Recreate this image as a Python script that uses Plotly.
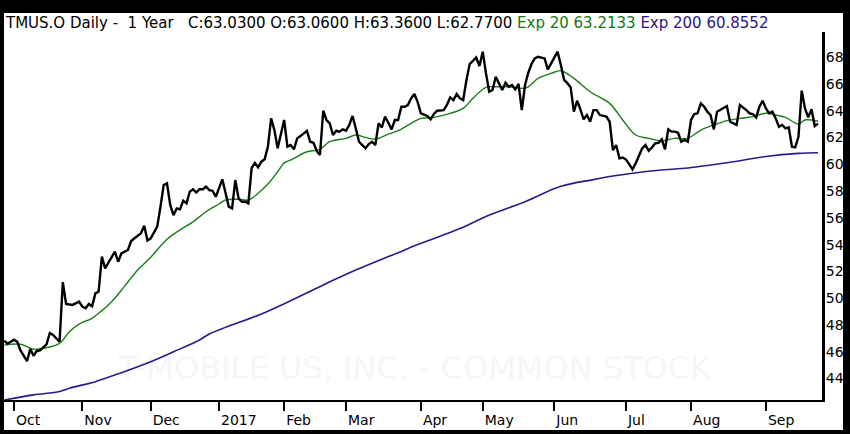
import plotly.graph_objects as go

# ---------------- data (trading-day index, 0 = 3 Oct 2016) ----------------
month_tick_days = [0, 21, 42, 63, 83, 102, 125, 144, 166, 188, 208, 231]
month_tick_labels = ["Oct", "Nov", "Dec", "2017", "Feb", "Mar", "Apr", "May", "Jun", "Jul", "Aug", "Sep"]
y_tick_values = [44, 46, 48, 50, 52, 54, 56, 58, 60, 62, 64, 66, 68]

price_day = [-3, -2, 0, 1, 2, 4, 5, 6, 7, 8, 10, 11, 12, 14, 15, 16, 18, 20, 21, 22, 23, 24, 25, 26,
             27, 28, 29, 31, 32, 33, 35, 36, 37, 39, 40, 41, 42, 44, 45, 46, 47, 48, 49, 50, 51, 52,
             53, 54, 55, 56, 57, 58, 59, 60, 61, 62, 64, 65, 66, 67, 68, 69, 70, 71, 72, 73, 74, 75,
             76, 77, 78, 79, 80, 81, 82, 83, 84, 85, 86, 87, 88, 90, 91, 92, 93, 94, 95, 96, 97, 98,
             99, 100, 101, 102, 103, 104, 105, 106, 107, 108, 109, 110, 111, 112, 113, 114, 115, 116,
             117, 118, 119, 120, 121, 122, 123, 124, 125, 126, 127, 128, 129, 130, 131, 132, 133, 134,
             135, 136, 137, 138, 139, 140, 141, 142, 143, 144, 145, 146, 147, 148, 149, 150, 151, 152,
             153, 154, 155, 156, 157, 158, 159, 160, 161, 163, 164, 165, 166, 167, 168, 169, 170, 171,
             172, 173, 174, 175, 176, 177, 178, 179, 180, 181, 182, 183, 184, 185, 186, 187, 188, 189,
             190, 191, 192, 193, 194, 195, 196, 197, 198, 199, 200, 201, 202, 203, 204, 205, 206, 207,
             208, 209, 210, 211, 212, 213, 214, 215, 216, 217, 218, 219, 220, 221, 222, 223, 224, 225,
             226, 227, 228, 229, 230, 231, 232, 233, 234, 235, 236, 237, 238, 239, 240, 241, 242, 243,
             244, 245, 246, 247]
price_close = [46.83, 46.6, 46.9, 46.75, 46.1, 45.3, 46.2, 45.7, 46.06, 46.1, 46.56, 47.4, 47.25, 46.75,
               51.2, 49.57, 49.5, 49.74, 49.37, 49.25, 49.57, 49.4, 50.36, 50.5,
               53.1, 52.23, 52.65, 53.47, 52.72, 53.35, 53.6, 54.27, 54.47, 54.84, 55.4, 54.3,
               54.47, 55.34, 56.83, 58.45, 58.57, 56.96, 56.2, 56.7, 56.63, 57.28,
               57.08, 57.95, 58.13, 57.88, 58.13, 58.13, 58.32, 58.07, 58.02, 57.57, 58.87, 57.83,
               56.83, 56.7, 58.82, 57.45, 57.2, 57.2, 57.08, 59.7, 60.1, 59.77,
               60.19, 60.37, 61.31, 63.42, 62.55, 61.19, 62.31, 63.3, 61.31, 61.43, 61.11, 61.93,
               62.1, 62.5, 61.68, 61.6, 60.99, 60.69, 63.99, 63.3, 63.05, 62.18,
               62.5, 62.43, 62.6, 62.5, 62.93, 63.6, 62.68, 61.68, 61.43, 61.19, 61.5, 61.68, 61.43,
               63.05, 62.75, 63.55, 63.1, 62.6,
               63.3, 63.3, 64.29, 64.29, 64.42, 64.92, 65.24, 64.66, 63.8, 63.7, 63.6, 63.35, 63.75,
               63.99, 64.04, 64.04, 64.42, 64.99,
               64.79, 65.24, 64.92, 64.79, 66.28, 67.48, 67.72, 67.97, 67.33, 68.4, 66.78, 65.41,
               65.54, 66.53, 66.03, 65.54, 66.08, 65.78,
               65.91, 65.59, 65.99, 64.04, 65.91, 66.83, 67.48, 67.9, 68.02, 67.9, 67.08, 67.53,
               68.02, 68.4, 67.4, 66.3, 66.05, 65.75,
               63.92, 64.74, 64.1, 63.35, 63.67, 63.17, 64.04, 64.04, 63.67, 63.6, 63.55, 63.17,
               61.06, 61.43, 60.44, 60.5, 60.35, 60.01,
               59.62, 60.07, 60.69, 61.19, 61.43, 61.0, 61.26, 61.56, 61.6, 61.86, 61.11, 62.6,
               62.43, 62.43, 62.35, 61.68, 61.81, 61.68,
               63.3, 63.75, 63.8, 64.54, 64.3, 63.92, 63.67, 62.6, 63.92, 64.04, 64.17, 64.34,
               63.17, 63.05, 62.93, 64.42, 64.25, 64.04,
               63.8, 63.75, 63.5, 64.29, 64.74, 64.17, 63.8, 63.92, 63.42, 62.8, 62.93, 62.68,
               62.75, 61.31, 61.26, 62.05, 65.49, 64.17,
               63.5, 64.1, 62.85, 63.03]

ema20_day = [-3, 2, 6, 9, 14, 17, 20, 24, 26, 30, 34, 38, 42, 47, 51, 55, 59, 63, 65, 69, 72, 75,
             78, 81, 83, 85, 86, 90, 94, 97, 102, 105, 108, 111, 115, 118, 122, 125, 129, 134,
             138, 141, 145, 148, 152, 156, 158, 161, 165, 168, 172, 177, 183, 187, 191, 195, 199,
             203, 207, 211, 215, 219, 223, 227, 231, 234, 237, 241, 243, 247]
ema20_value = [46.5, 46.56, 46.19, 46.26, 46.63, 47.5, 48.07, 48.5, 48.87, 49.74, 50.9, 52.1, 53.05,
               54.4, 55.1, 55.7, 56.45, 57.03, 57.33, 57.38, 57.33, 57.83, 58.52, 59.44, 60.1, 60.31,
               60.44, 60.93, 61.11, 61.68, 61.93, 62.18, 62.0, 61.88, 62.25, 62.5, 63.05, 63.42,
               63.5, 63.8, 64.17, 64.92, 65.74, 65.78, 65.78, 65.66, 65.78, 66.41, 66.78, 66.98,
               66.41, 65.41, 64.54, 63.3, 62.18, 61.93, 61.75, 61.93, 61.93, 62.55, 62.93, 63.25,
               63.42, 63.55, 63.8, 63.67, 63.5, 63.0, 63.3, 63.21]

ema200_day = [-3, 6, 14, 17, 25, 33, 42, 49, 57, 60, 77, 84, 96, 105, 118, 124, 138, 145, 157, 168,
              178, 184, 190, 198, 207, 214, 221, 231, 241, 247]
ema200_value = [42.4, 42.78, 43.03, 43.28, 43.77, 44.44, 45.26, 46.0, 46.88, 47.33, 48.92, 49.7,
                51.1, 52.1, 53.4, 54.0, 55.3, 56.1, 57.2, 58.35, 58.85, 59.12, 59.33, 59.55, 59.72,
                59.94, 60.19, 60.58, 60.81, 60.86]

header_text = "TMUS.O Daily -  1 Year   C:63.0300 O:63.0600 H:63.3600 L:62.7700"
ema20_label = "Exp 20 63.2133"
ema200_label = "Exp 200 60.8552"
watermark = "T-MOBILE US, INC. - COMMON STOCK"

# ---------------- figure ----------------
W, H = 850, 434
ML, MR, MT, MB = 4, 28, 32, 34
x_range = [-3.07, 248.23]
y_range = [42.40, 69.87]
FONT = "DejaVu Sans"

fig = go.Figure()

# faint watermark drawn first so lines sit on top of it
fig.add_trace(go.Scatter(
    x=[x_range[0] + 0.502 * (x_range[1] - x_range[0])],
    y=[y_range[0] + 0.079 * (y_range[1] - y_range[0])],
    mode="text", text=[watermark],
    textfont=dict(family=FONT, size=32, color="#f6f6f6"),
    hoverinfo="skip", showlegend=False))

fig.add_trace(go.Scatter(x=ema200_day, y=ema200_value, mode="lines",
                         line=dict(color="#2a1a8c", width=1.6), line_shape="spline",
                         showlegend=False))
fig.add_trace(go.Scatter(x=ema20_day, y=ema20_value, mode="lines",
                         line=dict(color="#1b7d1b", width=1.4), line_shape="spline",
                         showlegend=False))
fig.add_trace(go.Scatter(x=price_day, y=price_close, mode="lines",
                         line=dict(color="#000000", width=2.4), showlegend=False))

pw = W - ML - MR
ph = H - MT - MB

def px2paper_x(px):
    return (px - ML) / pw

def px2paper_y(py):
    return (H - MB - py) / ph

# black outer frame
frame = [
    (0, 0, W, 13),      # top band
    (0, 0, 4, H),       # left
    (843, 0, W, H),     # right
    (0, 430, W, H),     # bottom
]
shapes = []
for x0, y0, x1, y1 in frame:
    shapes.append(dict(type="rect", xref="paper", yref="paper",
                       x0=px2paper_x(x0), x1=px2paper_x(x1),
                       y0=px2paper_y(y1), y1=px2paper_y(y0),
                       fillcolor="black", line=dict(width=0), layer="above"))

fig.update_layout(
    width=W, height=H,
    margin=dict(l=ML, r=MR, t=MT, b=MB),
    paper_bgcolor="white", plot_bgcolor="white",
    font=dict(family=FONT, size=14, color="black"),
    showlegend=False,
    shapes=shapes,
    xaxis=dict(range=x_range, tickmode="array", tickvals=month_tick_days,
               ticktext=month_tick_labels, ticks="outside", ticklen=9, tickwidth=2,
               tickcolor="black", showline=True, linecolor="black", linewidth=2,
               showgrid=False, zeroline=False, ticklabelposition="outside right",
               ticklabelstandoff=6,
               tickfont=dict(family=FONT, size=14, color="black")),
    yaxis=dict(range=y_range, side="right", tickmode="array", tickvals=y_tick_values,
               ticks="", showline=True, linecolor="black", linewidth=3,
               showgrid=False, zeroline=False, ticklabelstandoff=-2,
               tickfont=dict(family=FONT, size=14, color="black")),
    annotations=[dict(
        xref="paper", yref="paper", x=px2paper_x(3), y=px2paper_y(23.5),
        xanchor="left", yanchor="middle", showarrow=False,
        text=(header_text + " <span style='color:#137a13'>" + ema20_label + "</span>"
              + " <span style='color:#2b1580'>" + ema200_label + "</span>"),
        font=dict(family=FONT, size=15, color="black"))],
)

fig.write_html("out.html", config={"displayModeBar": False},
               post_script="document.body.style.margin='0';document.body.style.overflow='hidden';")
